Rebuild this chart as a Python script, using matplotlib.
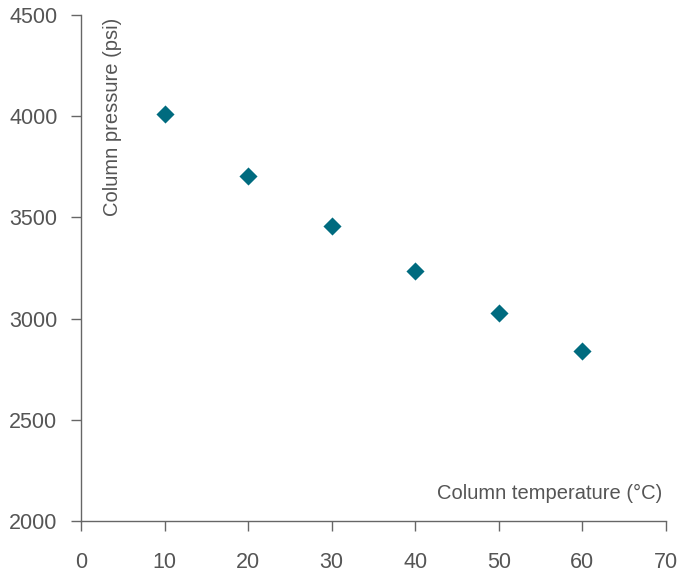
import matplotlib
matplotlib.use("Agg")
import matplotlib.pyplot as plt

# Column temperature (°C) vs. column pressure (psi)
temperature = [10, 20, 30, 40, 50, 60]
pressure = [4010, 3705, 3458, 3235, 3028, 2840]

x_ticks = [0, 10, 20, 30, 40, 50, 60, 70]
y_ticks = [2000, 2500, 3000, 3500, 4000, 4500]

text_color = "#555555"
axis_color = "#666666"
marker_color = "#006b7f"

plt.rcParams["font.family"] = ["Liberation Sans", "DejaVu Sans"]

fig = plt.figure(figsize=(6.88, 5.73), dpi=100)
ax = fig.add_axes([81 / 688, 1 - 521 / 573, (666 - 81) / 688, (521 - 15) / 573])

ax.scatter(temperature, pressure, marker="D", s=85, color=marker_color,
           linewidths=0, zorder=3)

ax.set_xlim(0, 70)
ax.set_ylim(2000, 4500)
ax.set_xticks(x_ticks)
ax.set_yticks(y_ticks)

for side in ("top", "right"):
    ax.spines[side].set_visible(False)
for side in ("left", "bottom"):
    ax.spines[side].set_color(axis_color)
    ax.spines[side].set_linewidth(1.0)

ax.tick_params(axis="both", direction="out", length=7, width=1.0,
               color=axis_color, labelcolor=text_color, labelsize=15.5)
ax.tick_params(axis="x", pad=15)
ax.tick_params(axis="y", pad=10)

ax.text(0.053, 0.995, "Column pressure (psi)", transform=ax.transAxes,
        rotation=90, ha="center", va="top", fontsize=14.5, color=text_color)
ax.text(0.994, 0.035, "Column temperature (°C)", transform=ax.transAxes,
        ha="right", va="bottom", fontsize=14.5, color=text_color)

fig.savefig("out.png", dpi=100)
